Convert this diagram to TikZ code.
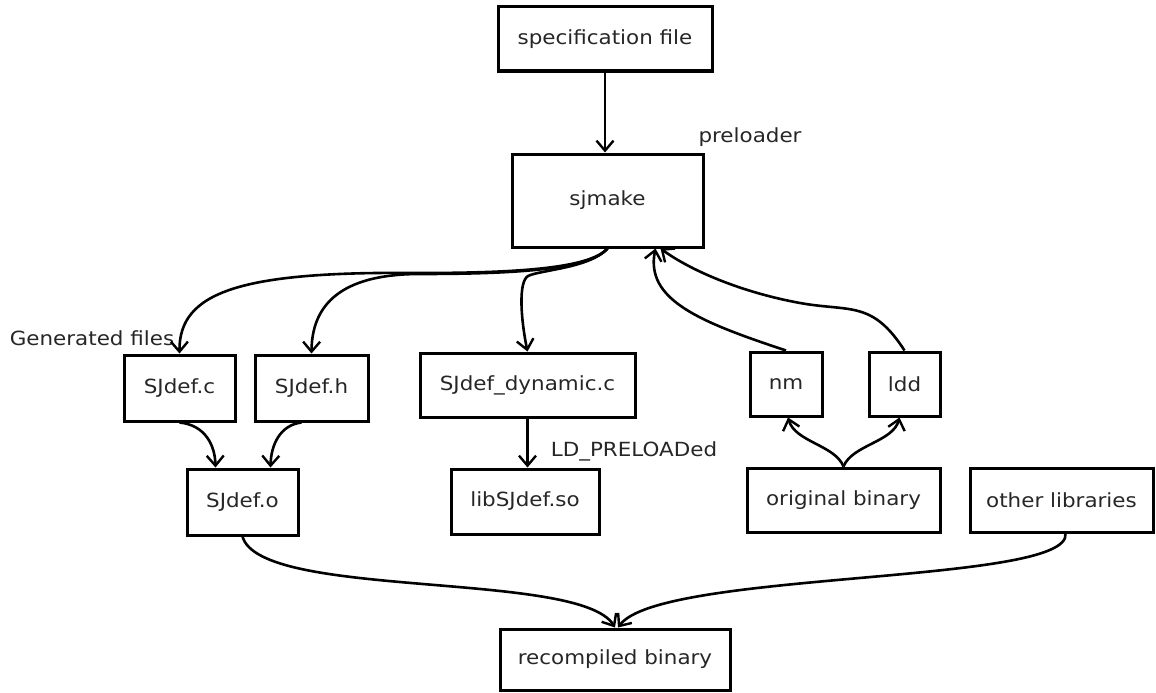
\documentclass[tikz,border=0pt]{standalone}
\usepackage{fontspec}
\setmainfont{DejaVu Sans}[FakeStretch=1.1]
\usetikzlibrary{arrows.meta}
\begin{document}
\begin{tikzpicture}[x=1pt,y=-1pt,
  box/.style={draw=black, line width=3pt, inner sep=0pt, align=center, text=black!85},
  lbl/.style={inner sep=0pt, text=black!85},
  conn/.style={line width=2.6pt, -{Straight Barb[length=10pt,width=17pt,line width=2.4pt]}},
  every node/.style={font=\fontsize{19.5}{22}\selectfont}]
\useasboundingbox (0,0) rectangle (1156,693);

\node[box, minimum width=214pt, minimum height=64pt] (spec) at (605,39) {specification file};
\node[box, minimum width=191pt, minimum height=93pt] (sjmake) at (607.5,200.5) {sjmake};
\node[lbl] (pre) at (750,137) {preloader};
\node[lbl] (gen) at (92,338) {Generated files};

\node[box, minimum width=111pt, minimum height=66pt] (sjc) at (179.5,388) {SJdef.c};
\node[box, minimum width=113pt, minimum height=66pt] (sjh) at (311.5,388) {SJdef.h};
\node[box, minimum width=215pt, minimum height=64pt] (dyn) at (527.5,385) {SJdef\_dynamic.c};
\node[box, minimum width=72pt, minimum height=64pt] (nm) at (786,384) {nm};
\node[box, minimum width=71pt, minimum height=64pt] (ldd) at (904.5,384) {ldd};

\node[box, minimum width=111pt, minimum height=66pt] (sjo) at (242.5,502) {SJdef.o};
\node[box, minimum width=148pt, minimum height=65pt] (lib) at (525,501.5) {libSJdef.so};
\node[lbl] (ldp) at (634,451) {LD\_PRELOADed};
\node[box, minimum width=193pt, minimum height=64pt] (orig) at (843.5,500) {original binary};
\node[box, minimum width=183pt, minimum height=64pt] (other) at (1061.5,500) {other libraries};

\node[box, minimum width=230pt, minimum height=61pt] (rec) at (615,659.5) {recompiled binary};

% spec -> sjmake
\draw[conn] (spec.south) -- (spec.south |- sjmake.north);
% sjmake -> generated files
\draw[conn] (sjmake.south) .. controls (590,268) and (520,273) .. (420,273)
  .. controls (240,271) and (179,292) .. (sjc.north);
\draw[conn] (sjmake.south) .. controls (590,269) and (520,274) .. (420,274)
  .. controls (350,274) and (312,298) .. (sjh.north);
\draw[conn] (sjmake.south) .. controls (590,268) and (540,270) .. (528,276)
  .. controls (518,282) and (521,320) .. (dyn.north);
% nm, ldd -> sjmake
\draw[conn] (nm.north) .. controls (700,322) and (645,300) .. ([xshift=48pt]sjmake.south);
\draw[conn] (ldd.north) .. controls (872,300) and (850,312) .. (800,303)
  .. controls (740,292) and (690,270) .. ([xshift=53pt]sjmake.south);
% original binary -> nm, ldd
\draw[conn] (orig.north) .. controls (835,445) and (795,442) .. ([xshift=2pt]nm.south);
\draw[conn] (orig.north) .. controls (852,445) and (893,442) .. ([xshift=-5pt]ldd.south);
% SJdef.c, SJdef.h -> SJdef.o
\draw[conn] (sjc.south) .. controls (205,425) and (215,445) .. ([xshift=-27pt]sjo.north);
\draw[conn] ([xshift=-10pt]sjh.south) .. controls (280,425) and (271,445) .. ([xshift=28pt]sjo.north);
% dyn -> lib
\draw[conn] (dyn.south) -- (dyn.south |- lib.north);
% -> recompiled
\draw[conn] (sjo.south) .. controls (260,600) and (580,570) .. (rec.north);
\draw[conn] ([xshift=4pt]other.south) .. controls (1072,585) and (660,570) .. ([xshift=3pt]rec.north);
\end{tikzpicture}
\end{document}
